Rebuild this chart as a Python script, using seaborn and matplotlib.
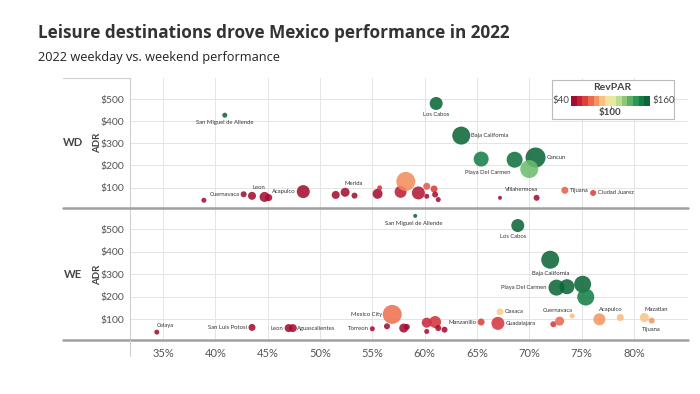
import numpy as np
import pandas as pd
import matplotlib
matplotlib.use("Agg")
import matplotlib.pyplot as plt
import seaborn as sns
from matplotlib.colors import LinearSegmentedColormap, ListedColormap
from matplotlib.lines import Line2D
from matplotlib.patches import Rectangle

# ---------------- data ----------------
wd_city = ["San Miguel de Allende", "", "Cuernavaca", "", "Leon", "", "Acapulco", "",
           "Merida", "", "", "", "", "", "", "", "", "", "", "",
           "Villahermosa", "", "Tijuana", "Ciudad Juarez", "Los Cabos", "Baja California",
           "Playa Del Carmen", "", "Cancun", ""]
wd_occ = [40.9, 38.9, 42.7, 43.5, 44.7, 45.1, 48.4, 51.5, 52.4, 53.3, 55.5, 55.7, 57.7, 58.2,
          59.4, 60.2, 60.2, 60.9, 61.0, 61.3, 67.2, 70.7, 73.4, 76.1, 61.1, 63.5, 65.4, 68.6,
          70.6, 70.0]
wd_adr = [427, 43, 70, 63, 58, 55, 82, 67, 79, 64, 72, 99, 81, 128, 76, 106, 61, 94, 69, 46,
          54, 54, 88, 76, 480, 335, 229, 226, 236, 184]
wd_revpar = [175, 17, 30, 27, 26, 25, 40, 35, 41, 34, 40, 55, 47, 75, 45, 64, 37, 57, 42, 28,
             36, 38, 65, 58, 293, 213, 150, 155, 167, 129]
wd_supply = [25, 25, 36, 64, 100, 49, 169, 64, 81, 36, 100, 25, 144, 361, 169, 49, 25, 49, 36,
             25, 16, 36, 49, 36, 169, 324, 225, 256, 400, 324]

we_city = ["San Miguel de Allende", "Los Cabos", "Baja California", "Playa Del Carmen", "", "",
           "", "Mexico City", "Torreon", "", "", "", "", "", "", "", "", "Manzanillo", "Oaxaca",
           "Guadalajara", "", "Cuernavaca", "", "Acapulco", "", "Mazatlan", "Tijuana", "Celaya",
           "San Luis Potosi", "Leon", "Aguascalientes"]
we_occ = [59.1, 68.9, 72.0, 72.6, 73.6, 75.1, 75.4, 56.9, 55.0, 56.4, 58.0, 58.3, 60.2, 61.0,
          60.2, 61.3, 61.9, 65.4, 67.2, 67.0, 72.3, 72.9, 74.1, 76.7, 78.7, 81.0, 81.7, 34.4,
          43.5, 47.0, 47.4]
we_adr = [560, 517, 365, 241, 245, 256, 199, 122, 58, 69, 61, 66, 85, 88, 46, 61, 54, 88, 133,
          82, 78, 92, 115, 100, 108, 108, 94, 43, 64, 61, 61]
we_revpar = [331, 356, 263, 175, 180, 192, 150, 69, 32, 39, 35, 38, 51, 54, 28, 37, 33, 58, 89,
             55, 56, 67, 85, 77, 85, 87, 77, 15, 28, 29, 29]
we_supply = [16, 169, 324, 256, 225, 289, 289, 361, 25, 36, 81, 36, 100, 144, 25, 36, 36, 49, 49,
             169, 36, 81, 25, 144, 49, 81, 36, 25, 49, 64, 64]

x_ticks = [35, 40, 45, 50, 55, 60, 65, 70, 75, 80]
y_ticks = [100, 200, 300, 400, 500]

# label placement (offset in pixels, ha)
wd_lab = {
    "San Miguel de Allende": (0, -7, "center"), "Cuernavaca": (-4, 0, "right"),
    "Leon": (-6, 9, "center"), "Acapulco": (-8, 0, "right"), "Merida": (9, 9, "center"),
    "Villahermosa": (5, 8, "left"), "Tijuana": (5, 0, "left"), "Ciudad Juarez": (5, 0, "left"),
    "Los Cabos": (0, -11, "center"), "Baja California": (10, 0, "left"),
    "Playa Del Carmen": (7, -13, "center"), "Cancun": (11, 0, "left"),
}
we_lab = {
    "San Miguel de Allende": (-1, -7.5, "center"), "Los Cabos": (-5, -11, "center"),
    "Baja California": (0, -14, "center"), "Playa Del Carmen": (-10, 0, "right"),
    "Mexico City": (-10, 0, "right"), "Torreon": (-4, 0, "right"), "Manzanillo": (-5, 0, "right"),
    "Oaxaca": (5, 0, "left"), "Guadalajara": (8, 0, "left"), "Cuernavaca": (-2, 11, "center"),
    "Acapulco": (11, 10, "center"), "Mazatlan": (12, 8, "center"), "Tijuana": (0, -9, "center"),
    "Celaya": (0, 7, "left"), "San Luis Potosi": (-5, 0, "right"), "Leon": (-5, 0, "right"),
    "Aguascalientes": (4, 0, "left"),
}

# ---------------- style ----------------
sns.set_style("white")
plt.rcParams["font.family"] = ["Lato", "DejaVu Sans"]

cmap = LinearSegmentedColormap.from_list("rg", [
    "#a30c30", "#c8243a", "#e0473f", "#f07650", "#f8a468", "#fbd28d", "#f5efaa",
    "#cfe49a", "#9fd07e", "#66b86a", "#319c58", "#148046", "#0b6638"])

fig = plt.figure(figsize=(7, 3.94), dpi=100)
W, H = 700, 394


def fx(px):
    return px / W


def fy(py):
    return 1 - py / H


ax_wd = fig.add_axes([fx(130), fy(208), fx(688) - fx(130), fy(78) - fy(208)])
ax_we = fig.add_axes([fx(130), fy(340), fx(688) - fx(130), fy(208) - fy(340)])


def panel(ax, occ, adr, rev, sup, city, labs, show_x):
    df = pd.DataFrame({"occ": occ, "adr": adr, "revpar": rev, "supply": sup, "city": city})
    sns.scatterplot(data=df, x="occ", y="adr", hue="revpar", palette=cmap, hue_norm=(40, 160),
                    size="supply", sizes=(0, 400 * 0.5184), size_norm=(0, 400),
                    alpha=0.87, edgecolor="none", legend=False, ax=ax, zorder=3)
    for _, r in df.iterrows():
        if r["city"] in labs:
            dx, dy, ha = labs[r["city"]]
            ax.annotate(r["city"], (r["occ"], r["adr"]), xytext=(dx, dy),
                        textcoords="offset pixels", ha=ha, va="center",
                        fontsize=4.2, color="#333333", zorder=4)
    ax.set_xlim(31.84, 85.17)
    ax.set_ylim(8, 595)
    ax.set_xticks(x_ticks)
    ax.set_yticks(y_ticks)
    ax.set_yticklabels([f"${v}" for v in y_ticks])
    if show_x:
        ax.set_xticklabels([f"{v}%" for v in x_ticks])
    else:
        ax.set_xticklabels([])
    ax.tick_params(length=0, labelsize=7.5, colors="#555555", pad=4)
    ax.tick_params(axis="x", pad=6, labelsize=8)
    ax.grid(True, color="#e4e4e4", lw=0.7, zorder=0)
    ax.set_axisbelow(True)
    for s in ["top", "right", "bottom"]:
        ax.spines[s].set_visible(False)
    ax.spines["left"].set_color("#d0d0d0")
    ax.spines["left"].set_linewidth(0.8)
    ax.set_xlabel("")
    ax.set_ylabel("")


panel(ax_wd, wd_occ, wd_adr, wd_revpar, wd_supply, wd_city, wd_lab, False)
panel(ax_we, we_occ, we_adr, we_revpar, we_supply, we_city, we_lab, True)

# row headers
for name, yc in [("WD", 143), ("WE", 275)]:
    fig.text(fx(73), fy(yc), name, ha="center", va="center", fontsize=8, fontweight="bold",
             color="#444444")
    fig.text(fx(98), fy(yc), "ADR", ha="center", va="center", rotation=90, fontsize=7,
             fontweight="bold", color="#444444")

# structural lines
fig.add_artist(Line2D([fx(63), fx(688)], [fy(208), fy(208)], color="#a0a0a0", lw=1.8))
fig.add_artist(Line2D([fx(63), fx(688)], [fy(340), fy(340)], color="#a0a0a0", lw=1.8))
fig.add_artist(Line2D([fx(63), fx(130)], [fy(78), fy(78)], color="#d0d0d0", lw=0.8))
fig.add_artist(Line2D([fx(130), fx(130)], [fy(340), fy(356)], color="#d0d0d0", lw=0.8))

# titles
fig.text(fx(38), fy(33), "Leisure destinations drove Mexico performance in 2022",
         fontsize=12.3, fontweight="bold", color="#333333", va="center", ha="left",
         family=["Open Sans", "DejaVu Sans"])
fig.text(fx(38), fy(58), "2022 weekday vs. weekend performance", fontsize=9.2,
         color="#222222", va="center", ha="left", family=["Open Sans", "DejaVu Sans"])

# legend
fig.add_artist(Rectangle((fx(552), fy(119)), fx(674) - fx(552), fy(80) - fy(119),
                         transform=fig.transFigure, facecolor="white", edgecolor="#bbbbbb",
                         lw=0.8, zorder=5))
cax = fig.add_axes([fx(571), fy(106), fx(650) - fx(571), fy(96) - fy(106)], zorder=6)
steps = np.linspace(40, 160, 14)
cax.imshow(steps[None, :], cmap=ListedColormap(cmap(np.linspace(0, 1, 14))), aspect="auto",
           vmin=40, vmax=160)
cax.set_axis_off()
fig.add_artist(Line2D([fx(610.5), fx(610.5)], [fy(106), fy(108.5)], color="#666666", lw=0.6,
                      zorder=7))
fig.text(fx(612), fy(88), "RevPAR", ha="center", va="center", fontsize=7.5, fontweight="bold",
         color="#444444", zorder=7)
fig.text(fx(569), fy(101), "$40", ha="right", va="center", fontsize=7, color="#444444", zorder=7)
fig.text(fx(652), fy(101), "$160", ha="left", va="center", fontsize=7, color="#444444", zorder=7)
fig.text(fx(610), fy(113), "$100", ha="center", va="center", fontsize=7, fontweight="bold",
         color="#444444", zorder=7)

fig.savefig("out.png", dpi=100)
